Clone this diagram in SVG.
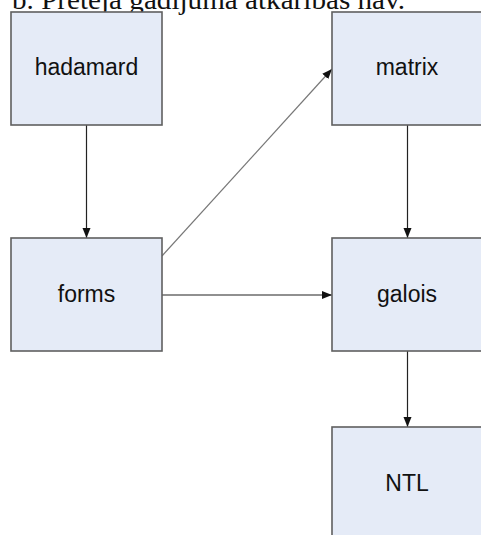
<svg xmlns="http://www.w3.org/2000/svg" width="481" height="535" viewBox="0 0 481 535">
  <style>
    .box { fill: #e5ebf7; stroke: #5f5f5f; stroke-width: 1.6; }
    .label { font-family: "Liberation Sans", Arial, sans-serif; font-size: 23px; fill: #111; text-anchor: middle; }
    .title { font-family: "Liberation Serif", "Times New Roman", serif; font-size: 27px; fill: #111; }
    .edge { stroke: #222; stroke-width: 1.2; fill: none; marker-end: url(#arrow); }
    .edge.light { stroke: #777; }
  </style>
  <defs>
    <marker id="arrow" viewBox="0 0 10 10" refX="10" refY="5" markerWidth="10" markerHeight="10" markerUnits="userSpaceOnUse" orient="auto">
      <path d="M0,1 L10,5 L0,9 z" fill="#111"/>
    </marker>
  </defs>
  <rect width="481" height="535" fill="#ffffff"/>

  <text class="title" x="12" y="9" textLength="393" lengthAdjust="spacingAndGlyphs">b. Pretēja gadījuma atkarības nav.</text>

  <g id="connectors">
    <line class="edge" x1="86.5" y1="125" x2="86.5" y2="238"/>
    <line class="edge" x1="407.5" y1="125" x2="407.5" y2="238"/>
    <line class="edge" x1="162" y1="295" x2="332" y2="295"/>
    <line class="edge" x1="407.5" y1="351" x2="407.5" y2="427"/>
    <line class="edge light" x1="162" y1="256" x2="332" y2="69"/>
  </g>

  <g id="hadamard">
    <rect class="box" x="11" y="12" width="151" height="113"/>
    <text class="label" x="86.5" y="75">hadamard</text>
  </g>
  <g id="matrix">
    <rect class="box" x="332" y="12" width="151" height="113"/>
    <text class="label" x="407" y="75">matrix</text>
  </g>
  <g id="forms">
    <rect class="box" x="11" y="238" width="151" height="113"/>
    <text class="label" x="86.5" y="302">forms</text>
  </g>
  <g id="galois">
    <rect class="box" x="332" y="238" width="151" height="113"/>
    <text class="label" x="407" y="302">galois</text>
  </g>
  <g id="NTL">
    <rect class="box" x="332" y="427" width="151" height="113"/>
    <text class="label" x="407" y="491">NTL</text>
  </g>
</svg>
